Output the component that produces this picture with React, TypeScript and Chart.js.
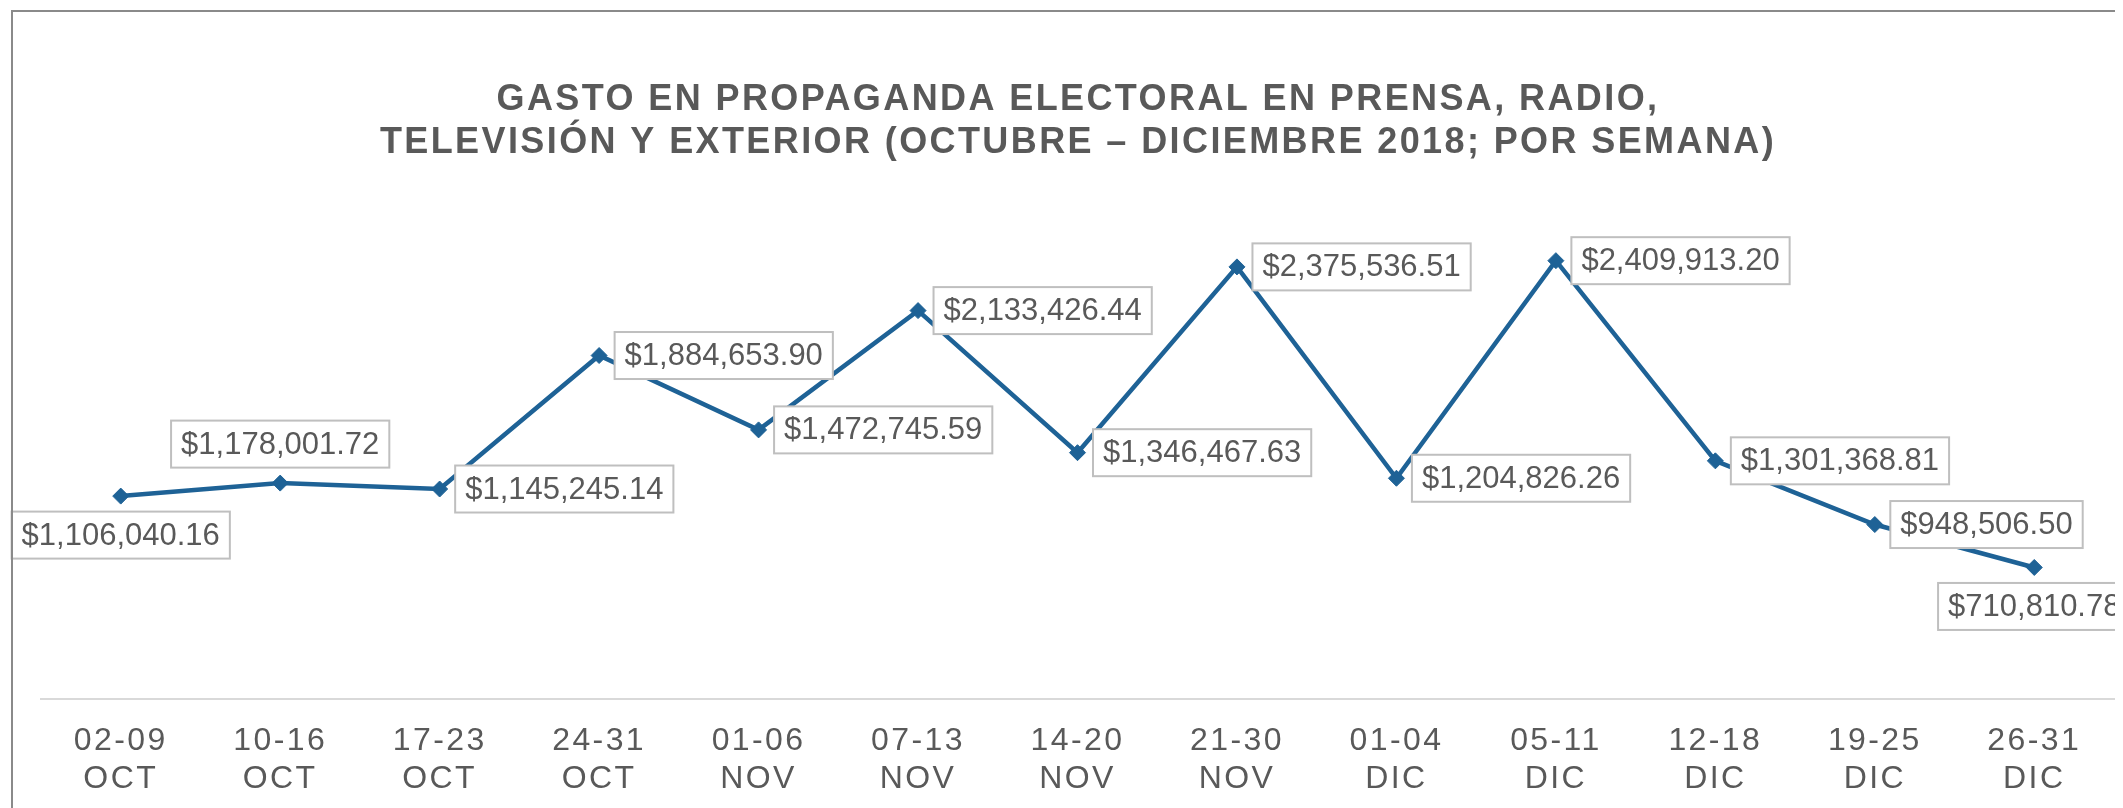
import React, { useEffect, useRef } from 'react';
import { Chart, registerables } from 'chart.js';

Chart.register(...registerables);

const weeks = ['02-09', '10-16', '17-23', '24-31', '01-06', '07-13', '14-20', '21-30', '01-04', '05-11', '12-18', '19-25', '26-31'];
const months = ['OCT', 'OCT', 'OCT', 'OCT', 'NOV', 'NOV', 'NOV', 'NOV', 'DIC', 'DIC', 'DIC', 'DIC', 'DIC'];
const spending = [1106040.16, 1178001.72, 1145245.14, 1884653.9, 1472745.59, 2133426.44, 1346467.63, 2375536.51, 1204826.26, 2409913.2, 1301368.81, 948506.5, 710810.78];
const labelPositions = ['below', 'above', 'right', 'right', 'right', 'right', 'right', 'right', 'right', 'right', 'right', 'right', 'below'];
const titleLines = ['GASTO EN PROPAGANDA ELECTORAL EN PRENSA, RADIO,', 'TELEVISIÓN Y EXTERIOR (OCTUBRE – DICIEMBRE 2018; POR SEMANA)'];
const yMin = -20000;
const yMax = 2940000;

const FONT = '"Liberation Sans", Arial, sans-serif';
const GRAY = '#595959';
const LINE_BLUE = '#1e6296';

const fmt = (v: number) =>
  '$' + v.toLocaleString('en-US', { minimumFractionDigits: 2, maximumFractionDigits: 2 });

const spacingPlugin = {
  id: 'letterSpacing',
  beforeDraw(chart: any) {
    chart.ctx.letterSpacing = '2.4px';
  },
  beforeDatasetsDraw(chart: any) {
    chart.ctx.letterSpacing = '0px';
  },
};

const dataLabelPlugin = {
  id: 'boxedLabels',
  afterDatasetsDraw(chart: any) {
    const ctx = chart.ctx;
    const meta = chart.getDatasetMeta(0);
    ctx.save();
    ctx.letterSpacing = '0px';
    ctx.font = `31px ${FONT}`;
    meta.data.forEach((pt: any, i: number) => {
      const text = fmt(spending[i]);
      const w = ctx.measureText(text).width + 20;
      const h = 47;
      const gap = 15.5;
      let x0: number;
      let y0: number;
      const pos = labelPositions[i];
      if (pos === 'right') {
        x0 = pt.x + gap;
        y0 = pt.y - h / 2;
      } else if (pos === 'above') {
        x0 = pt.x - w / 2;
        y0 = pt.y - gap - h;
      } else {
        x0 = pt.x - w / 2;
        y0 = pt.y + gap;
      }
      ctx.fillStyle = '#ffffff';
      ctx.fillRect(x0, y0, w, h);
      ctx.strokeStyle = '#bfbfbf';
      ctx.lineWidth = 2;
      ctx.strokeRect(x0, y0, w, h);
      ctx.fillStyle = GRAY;
      ctx.textAlign = 'center';
      ctx.textBaseline = 'middle';
      ctx.fillText(text, x0 + w / 2, y0 + h / 2 + 1);
    });
    ctx.restore();
  },
};

export default function App() {
  const canvasRef = useRef<HTMLCanvasElement | null>(null);

  useEffect(() => {
    document.body.style.overflow = 'hidden';
    const canvas = canvasRef.current;
    if (!canvas) return;
    const chart = new Chart(canvas, {
      type: 'line',
      data: {
        labels: weeks.map((w, i) => [w, months[i]]),
        datasets: [
          {
            data: spending,
            borderColor: LINE_BLUE,
            backgroundColor: LINE_BLUE,
            borderWidth: 4.5,
            pointStyle: 'rectRot',
            pointRadius: 8,
            pointBorderWidth: 1,
            pointBackgroundColor: LINE_BLUE,
            pointBorderColor: LINE_BLUE,
            tension: 0,
            clip: false as any,
          },
        ],
      },
      options: {
        responsive: false,
        animation: false,
        layout: { padding: { left: 33, right: 8, top: 0, bottom: 11 } },
        plugins: {
          legend: { display: false },
          tooltip: { enabled: false },
          title: {
            display: true,
            text: titleLines,
            color: GRAY,
            font: { family: FONT, size: 36, weight: 'bold', lineHeight: 1.208 },
            padding: { top: 70, bottom: 0 },
          },
        },
        scales: {
          x: {
            offset: true,
            grid: { display: false, drawTicks: false },
            border: { display: true, color: '#d9d9d9', width: 2 },
            ticks: {
              color: GRAY,
              font: { family: FONT, size: 32, lineHeight: 1.2125 },
              padding: 22,
              autoSkip: false,
              maxRotation: 0,
            },
          },
          y: {
            display: false,
            min: yMin,
            max: yMax,
          },
        },
      },
      plugins: [spacingPlugin, dataLabelPlugin],
    });
    return () => chart.destroy();
  }, []);

  return (
    <div style={{ position: 'relative', width: 2115, height: 800, overflow: 'hidden' }}>
      <canvas ref={canvasRef} width={2115} height={824} style={{ display: 'block' }} />
      <div
        style={{
          position: 'absolute',
          left: 3,
          top: 2,
          width: 2300,
          height: 1000,
          border: '2px solid #8a8a8a',
          pointerEvents: 'none',
        }}
      />
    </div>
  );
}
